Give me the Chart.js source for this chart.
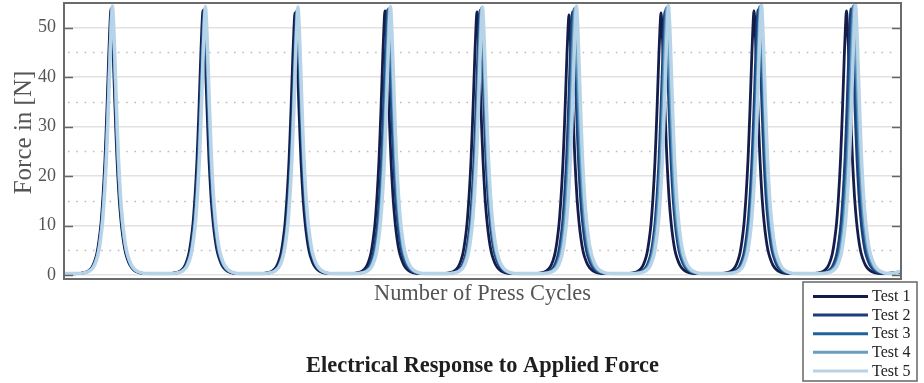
<!DOCTYPE html>
<html>
<head>
<meta charset="utf-8">
<script src="https://cdn.jsdelivr.net/npm/chart.js@4.4.1/dist/chart.umd.min.js"></script>
<style>
  html, body { margin: 0; padding: 0; background: #ffffff; }
  #wrap { position: relative; width: 924px; height: 383px; }
  canvas { display: block; }
</style>
</head>
<body>
<div id="wrap"><canvas id="c" width="924" height="383"></canvas></div>
<script>
// ---- Data ----
const seriesNames = ["Test 1", "Test 2", "Test 3", "Test 4", "Test 5"];
const seriesColors = ["#141d4a", "#1d3d78", "#1f639c", "#6a9ec0", "#b7d3e8"];

const chartTitle = "Electrical Response to Applied Force";
const xAxisTitle = "Number of Press Cycles";
const yAxisTitle = "Force in [N]";

// Peak shape around each press (offset in samples from the peak, force in N for a 54 N peak)
const pulseOffsets = [-35, -28, -23, -19, -16, -14, -12, -10, -8, -7, -6, -5, -4, -3, -2, -1, 0,
                      1, 2, 3, 4, 5, 6, 7, 8, 10, 12, 14, 16, 19, 23, 28, 35];
const pulseForces  = [0.3, 0.45, 0.8, 1.6, 3, 4.5, 7, 10.5, 16, 19.5, 23.5, 28.5, 34, 40, 46, 51, 54,
                      51, 46, 40, 34, 28.5, 23.5, 19.5, 16, 11, 7.5, 5, 3.5, 2, 1, 0.5, 0.3];

// Position of each of the 9 press peaks (sample index) per test
const test1Peaks = [47, 139, 231, 321, 413, 505, 597, 690, 782.5];
const test2Peaks = [47.5, 140, 232.5, 323.5, 416, 508.5, 601, 694, 787];
const test3Peaks = [48, 140.5, 233, 324.5, 417, 510, 602, 695.5, 789];
const test4Peaks = [48, 141, 233.5, 325.5, 417.5, 511, 603, 696.5, 790];
const test5Peaks = [48.5, 141.5, 234, 326.5, 418.5, 512.5, 604.5, 697.5, 791.5];

// Peak force (N) of each press per test
const test1Heights = [53.8, 53.5, 53.0, 53.4, 53.2, 52.6, 53.0, 53.4, 53.4];
const test2Heights = [53.6, 53.4, 53.2, 53.6, 53.5, 53.2, 53.3, 53.6, 53.8];
const test3Heights = [54.0, 53.8, 53.6, 53.8, 53.8, 53.8, 53.9, 54.2, 54.3];
const test4Heights = [54.2, 54.0, 53.8, 54.0, 54.0, 54.0, 54.2, 54.4, 54.5];
const test5Heights = [54.4, 54.3, 54.2, 54.3, 54.2, 54.4, 54.5, 54.6, 54.7];

const startForces = [0.25, 0.25, 0.3, 0.3, 0.3];
const endForces   = [0.6, 0.6, 0.7, 0.7, 0.8];
const sampleRange = [0, 837];

const yTicks = [0, 10, 20, 30, 40, 50];
const yMinorTicks = [5, 15, 25, 35, 45];
const yRange = [-0.8, 55];

// ---- Build datasets from the arrays above ----
const allPeaks = [test1Peaks, test2Peaks, test3Peaks, test4Peaks, test5Peaks];
const allHeights = [test1Heights, test2Heights, test3Heights, test4Heights, test5Heights];

function buildSeries(k) {
  const pts = [{ x: sampleRange[0], y: startForces[k] }];
  allPeaks[k].forEach((p, i) => {
    const s = allHeights[k][i] / 54;
    pulseOffsets.forEach((o, j) => {
      pts.push({ x: p + o, y: pulseForces[j] * s });
    });
  });
  pts.push({ x: sampleRange[1], y: endForces[k] });
  return pts;
}

const datasets = seriesNames.map((name, k) => ({
  label: name,
  data: buildSeries(k),
  borderColor: seriesColors[k],
  backgroundColor: seriesColors[k],
  borderWidth: k === 4 ? 3.4 : 2.8,
  pointRadius: 0,
  fill: false,
  cubicInterpolationMode: 'monotone',
  order: seriesNames.length - k
}));

const serif = "'Liberation Serif', 'Times New Roman', serif";

const framePlugin = {
  id: 'frameAndMinor',
  beforeDatasetsDraw(chart) {
    const { ctx, chartArea: a, scales: { y } } = chart;
    ctx.save();
    ctx.strokeStyle = '#bdbdbd';
    ctx.lineWidth = 1.6;
    ctx.setLineDash([1.6, 6.7]);
    yMinorTicks.forEach(v => {
      const py = Math.round(y.getPixelForValue(v)) + 0.5;
      ctx.beginPath();
      ctx.moveTo(a.left + 4, py);
      ctx.lineTo(a.right - 4, py);
      ctx.stroke();
    });
    ctx.restore();
  },
  afterDraw(chart) {
    const { ctx, chartArea: a, scales: { y } } = chart;
    ctx.save();
    // inward tick marks on both sides
    ctx.strokeStyle = '#666666';
    ctx.lineWidth = 1.6;
    yTicks.forEach(v => {
      const py = Math.round(y.getPixelForValue(v)) + 0.5;
      ctx.beginPath();
      ctx.moveTo(a.left, py); ctx.lineTo(a.left + 9, py);
      ctx.moveTo(a.right, py); ctx.lineTo(a.right - 9, py);
      ctx.stroke();
    });
    // frame
    ctx.strokeStyle = '#6b6b6b';
    ctx.lineWidth = 2;
    ctx.strokeRect(a.left, a.top, a.right - a.left, a.bottom - a.top);

    // y-axis title
    ctx.save();
    ctx.translate(24, (a.top + a.bottom) / 2 - 8.5);
    ctx.rotate(-Math.PI / 2);
    ctx.font = "25px " + serif;
    ctx.fillStyle = '#555555';
    ctx.textAlign = 'center';
    ctx.textBaseline = 'middle';
    ctx.fillText(yAxisTitle, 0, 0);
    ctx.restore();

    // chart title (centred on the plot area)
    ctx.font = "bold 22.4px " + serif;
    ctx.fillStyle = '#1e1e1e';
    ctx.textAlign = 'center';
    ctx.textBaseline = 'middle';
    ctx.fillText(chartTitle, (a.left + a.right) / 2, 366);

    // legend box
    const lx = 803, ly = 282, lw = 114, lh = 99;
    ctx.fillStyle = '#ffffff';
    ctx.fillRect(lx, ly, lw, lh);
    ctx.strokeStyle = '#666666';
    ctx.lineWidth = 1.5;
    ctx.strokeRect(lx, ly, lw, lh);
    ctx.font = "16px " + serif;
    ctx.textBaseline = 'middle';
    ctx.textAlign = 'left';
    chart.data.datasets.forEach((ds, i) => {
      const ry = 296.5 + i * 18.6;
      ctx.strokeStyle = ds.borderColor;
      ctx.lineWidth = 3;
      ctx.beginPath();
      ctx.moveTo(813, ry); ctx.lineTo(868, ry);
      ctx.stroke();
      ctx.fillStyle = '#222222';
      ctx.fillText(ds.label, 872, ry + 0.5);
    });
    ctx.restore();
  }
};

new Chart(document.getElementById('c'), {
  type: 'line',
  data: { datasets },
  plugins: [framePlugin],
  options: {
    responsive: false,
    animation: false,
    layout: { padding: { left: 0, right: 23, top: 3, bottom: 0 } },
    plugins: {
      legend: { display: false },
      tooltip: { enabled: false },
      title: { display: false }
    },
    scales: {
      x: {
        type: 'linear',
        min: sampleRange[0],
        max: sampleRange[1],
        grid: { display: false },
        border: { display: false },
        ticks: { display: false },
        title: {
          display: true,
          text: xAxisTitle,
          color: '#555555',
          font: { family: serif, size: 22.4 },
          padding: { top: 0, bottom: 75.5 }
        },
        afterFit(scale) {
          scale.height = 104;
          scale.paddingLeft = 0; scale.paddingRight = 0;
        }
      },
      y: {
        min: yRange[0],
        max: yRange[1],
        afterBuildTicks(scale) { scale.ticks = yTicks.map(v => ({ value: v })); },
        grid: { color: '#e2e2e2', lineWidth: 1.6, drawTicks: false },
        border: { display: false },
        ticks: {
          color: '#555555',
          font: { family: serif, size: 18 },
          padding: 8
        },
        title: { display: false },
        afterFit(scale) {
          scale.width = 64;
          scale.paddingTop = 0; scale.paddingBottom = 0;
        }
      }
    }
  }
});
</script>
</body>
</html>
